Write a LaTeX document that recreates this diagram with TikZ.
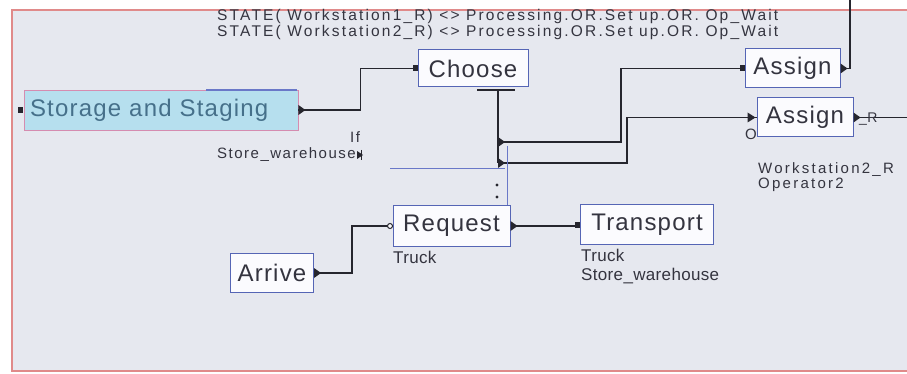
\documentclass[tikz,border=0pt]{standalone}
\usepackage{fontspec}
\setmainfont{Liberation Sans}
\newfontfamily\boxfont[LetterSpace=5]{Liberation Sans}
\newfontfamily\lblfont[LetterSpace=2]{Liberation Sans}
\newfontfamily\iflblfont[LetterSpace=10]{Liberation Sans}
\newfontfamily\wsfont[LetterSpace=15]{Liberation Sans}
\newfontfamily\hdrfont[LetterSpace=14]{Liberation Sans}
\usetikzlibrary{calc}
\definecolor{bgc}{HTML}{E6E8EF}
\definecolor{frame}{HTML}{E08A8A}
\definecolor{boxline}{HTML}{5565B5}
\definecolor{boxfill}{HTML}{FBFBFE}
\definecolor{txt}{HTML}{34343F}
\definecolor{storfill}{HTML}{B6DFEE}
\definecolor{storline}{HTML}{D58CB0}
\definecolor{stortxt}{HTML}{46708A}
\definecolor{wire}{HTML}{26262E}
\definecolor{selblue}{HTML}{6A78C8}
\newcommand\outport[1]{\fill[wire] (#1) ++(0,-5) -- ++(7,5) -- ++(-7,5) -- cycle;}
\newcommand\inport[1]{\fill[wire] ($(#1)+(-5,-3)$) rectangle ++(5,6);}
\tikzset{
  blk/.style={draw=boxline, line width=1pt, fill=boxfill, text=txt,
    font=\boxfont\fontsize{24}{26}\selectfont, inner sep=0pt},
  stor/.style={draw=storline, line width=0.8pt, fill=storfill, text=stortxt,
    font=\boxfont\fontsize{24}{26}\selectfont, inner ysep=0pt, inner xsep=6pt},
  conn/.style={draw=wire, line width=1.2pt},
  lbl/.style={text=txt, font=\lblfont\fontsize{17}{19}\selectfont, inner sep=0pt},
  smlbl/.style={text=txt, font=\iflblfont\fontsize{15}{16}\selectfont, inner sep=0pt},
  wslbl/.style={text=txt, font=\wsfont\fontsize{15}{15}\selectfont, inner sep=0pt},
  hdr/.style={text=txt, font=\hdrfont\fontsize{15.5}{16}\selectfont, inner sep=0pt,
    text height=10pt, text depth=2.5pt},
}
\begin{document}
\begin{tikzpicture}[x=1pt,y=-1pt]
\useasboundingbox (0,0) rectangle (907,374);
\fill[white] (0,0) rectangle (907,374);
\fill[bgc] (12,10) rectangle (907,371);
\draw[frame, line width=1.2pt] (907,10) -- (12,10) -- (12,371) -- (907,371);

% header text
\node[hdr, anchor=west] (hdr1) at (217,17) {STATE( Workstation1\_R) <> Processing.OR.Set up.OR. Op\_Wait};
\node[hdr, anchor=west] (hdr2) at (217,33) {STATE( Workstation2\_R) <> Processing.OR.Set up.OR. Op\_Wait};

% blocks
\node[stor, minimum height=40pt, text width=262pt, align=left] (storage) at (161,110) {Storage and Staging};
\draw[selblue, line width=1.2pt] (206,90) -- (297,90);
\node[blk, minimum width=110pt, minimum height=37pt] (choose) at (473,68.5) {Choose};
\node[blk, minimum width=95pt, minimum height=39pt] (assignA) at (792.5,68.5) {Assign};
\node[blk, minimum width=96pt, minimum height=39pt] (assignB) at (805,117.5) {Assign};
\node[blk, minimum width=117pt, minimum height=40pt] (request) at (451.5,226) {Request};
\node[blk, minimum width=133pt, minimum height=40pt] (transport) at (647,224.5) {Transport};
\node[blk, minimum width=83pt, minimum height=39pt] (arrive) at (272,273) {Arrive};

% coordinates
\coordinate (stem) at (498,90);
\coordinate (j1) at (498,142);
\coordinate (j2) at (498,163);
\coordinate (topend) at (850,0);
\coordinate (rightend) at (907,117.5);

% connectors
\draw[conn] (storage.east) -- ++(62,0) |- (choose.west);
\draw[wire, line width=1.2pt] (477,90) -- (515,90);
\draw[conn] (stem) -- (j2);
\draw[conn] (j1) -- ++(123,0) |- (assignA.west);
\draw[conn] (j2) -- ++(129,0) |- (assignB.west);
\draw[conn] (assignA.east) -| (topend);
\draw[conn] (assignB.east) -- (rightend);
\draw[conn] (arrive.east) -- ++(38,0) |- (request.west);
\draw[conn] (request.east) -- (request.east -| transport.west);

% ports
\outport{storage.east}
\outport{assignA.east}
\outport{assignB.east}
\outport{request.east}
\outport{arrive.east}
\outport{j1}
\outport{j2}
\inport{choose.west}
\inport{assignA.west}
\inport{transport.west}
\fill[wire] ($(storage.west)+(-6,-3)$) rectangle ++(5,6);
\fill[wire] ($(assignB.west)+(-9,-5)$) -- ++(8,5) -- ++(-8,5) -- cycle;
\draw[wire, line width=1pt, fill=boxfill] ($(request.west)+(-2.5,0)$) circle (2.5);

% selection marks
\draw[selblue, line width=1pt] (390,169) -- (505,169);
\draw[selblue, line width=0.6pt] (507,146) -- (507,205);
\fill[wire] (497,185) circle (1.6);
\fill[wire] (497,197) circle (1.6);

% labels
\node[smlbl, anchor=west] (iflbl) at (350,137) {If};
\node[smlbl, anchor=west] (storelbl) at (217,155) {Store\_warehouse};
\fill[wire] (357,151) -- (363,155) -- (357,159) -- cycle;
\draw[wire, line width=1pt] (361,150) -- (361,160);
\node[lbl, anchor=west] (truckA) at (393,257) {Truck};
\node[lbl, anchor=west] (truckB) at (581,255) {Truck};
\node[lbl, anchor=west] (storeB) at (581,276) {Store\_warehouse};
\node[smlbl, anchor=west] (olbl) at (745,134) {O};
\node[text=txt, font=\lblfont\fontsize{14}{14}\selectfont, inner sep=0pt, anchor=base west] (rlbl) at (859,123) {\_R};
\node[wslbl, anchor=west] (wslbl) at (758,170) {Workstation2\_R};
\node[wslbl, anchor=west] (oplbl) at (758,185) {Operator2};
\end{tikzpicture}
\end{document}
